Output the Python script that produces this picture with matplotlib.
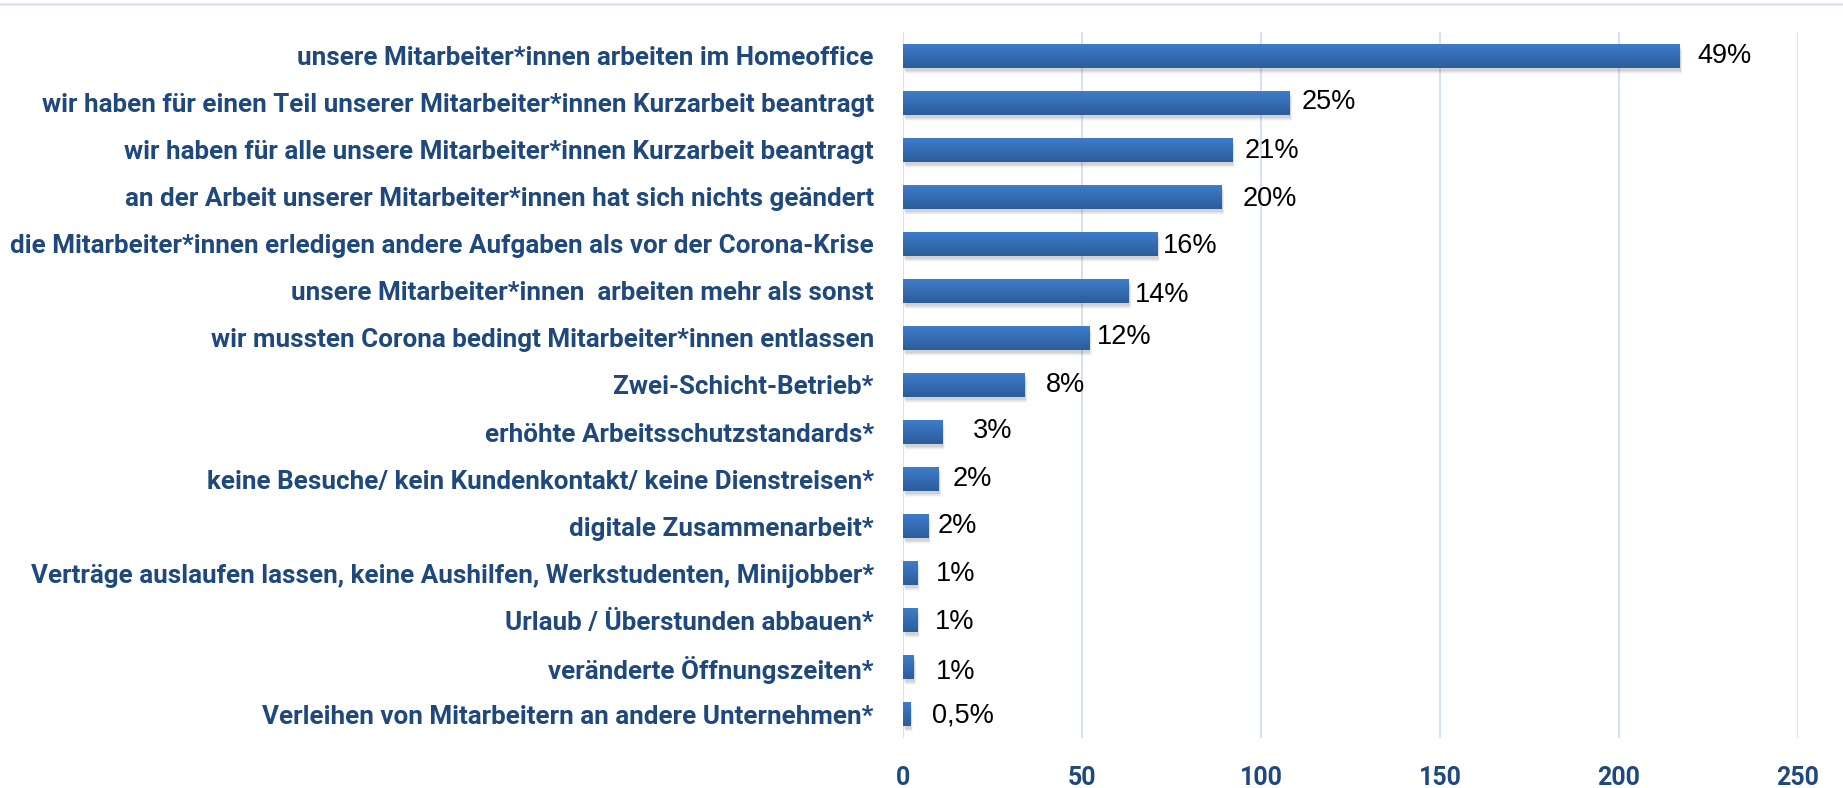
import matplotlib.pyplot as plt
import matplotlib.transforms as mtransforms
from matplotlib.patches import Rectangle
from matplotlib.lines import Line2D
import numpy as np

labels = [
    'unsere Mitarbeiter*innen arbeiten im Homeoffice',
    'wir haben für einen Teil unserer Mitarbeiter*innen Kurzarbeit beantragt',
    'wir haben für alle unsere Mitarbeiter*innen Kurzarbeit beantragt',
    'an der Arbeit unserer Mitarbeiter*innen hat sich nichts geändert',
    'die Mitarbeiter*innen erledigen andere Aufgaben als vor der Corona-Krise',
    'unsere Mitarbeiter*innen  arbeiten mehr als sonst',
    'wir mussten Corona bedingt Mitarbeiter*innen entlassen',
    'Zwei-Schicht-Betrieb*',
    'erhöhte Arbeitsschutzstandards*',
    'keine Besuche/ kein Kundenkontakt/ keine Dienstreisen*',
    'digitale Zusammenarbeit*',
    'Verträge auslaufen lassen, keine Aushilfen, Werkstudenten, Minijobber*',
    'Urlaub / Überstunden abbauen*',
    'veränderte Öffnungszeiten*',
    'Verleihen von Mitarbeitern an andere Unternehmen*',
]
counts = [217, 108, 92, 89, 71, 63, 52, 34, 11, 10, 7, 4, 4, 3, 2]
pct_labels = ['49%', '25%', '21%', '20%', '16%', '14%', '12%', '8%', '3%',
              '2%', '2%', '1%', '1%', '1%', '0,5%']
xticks = [0, 50, 100, 150, 200, 250]

# manual label placement (pixels) as in the original excel chart
label_dx = [18, 12, 12, 21, 6, 6, 8, 21, 31, 14, 10, 19, 18, 22, 22]
label_dy = [0, -1, 1, 2, 2, 4, -1, 0, -1, 0, 0, 1, 2, 5, 1]

navy = '#1f497d'
grid_c = '#d6e2f1'
top_c = np.array([0x3e, 0x7e, 0xcd]) / 255
bot_c = np.array([0x2c, 0x5c, 0x9a]) / 255

fig = plt.figure(figsize=(18.43, 7.88), dpi=100)
ax = fig.add_axes([903 / 1843, 50 / 788, (1798 - 903) / 1843, (756 - 50) / 788])
fig.add_artist(Line2D([0, 1], [1 - 4 / 788] * 2, transform=fig.transFigure,
                      color='#dce6f2', lw=2))

y = np.arange(len(labels))
h = 0.51
bars = ax.barh(y, counts, height=h, color='none', zorder=3)

grad = np.linspace(0, 1, 64)[:, None, None]
grad = (1 - grad) * top_c + grad * bot_c

for i, b in enumerate(bars):
    x0, yb = b.get_x(), b.get_y()
    w, hh = b.get_width(), b.get_height()
    # soft shadow under the bar
    for k, a in enumerate([0.10, 0.08, 0.06, 0.04]):
        off = mtransforms.ScaledTranslation((1 + k * 0.5) / 100, -(3 + k) / 100, fig.dpi_scale_trans)
        ax.add_patch(Rectangle((x0, yb), w, hh, facecolor='#555555', edgecolor='none',
                               alpha=a, transform=ax.transData + off, zorder=2))
    im = ax.imshow(grad, extent=(x0, x0 + w, yb + hh, yb), aspect='auto',
                   interpolation='bilinear', zorder=4)
    clip = Rectangle((x0, yb), w, hh, transform=ax.transData)
    im.set_clip_path(clip)
    off = mtransforms.ScaledTranslation(label_dx[i] / 100, -label_dy[i] / 100, fig.dpi_scale_trans)
    ax.text(x0 + w, i, pct_labels[i], transform=ax.transData + off,
            ha='left', va='center', fontsize=19.5, family='Liberation Sans',
            color='black', zorder=5)

ax.set_xlim(0, 250)
ax.set_ylim(len(labels) - 0.5, -0.5)
ax.set_xticks(xticks)
ax.set_yticks(y)
ax.set_yticklabels(labels, family='Roboto', fontweight='bold', fontsize=18.7, color=navy)
ax.set_xticklabels([str(t) for t in xticks], family='Roboto', fontweight='bold',
                   fontsize=18, color=navy)
ax.tick_params(axis='y', length=0, pad=21)
ax.tick_params(axis='x', length=0, pad=20)
ax.grid(axis='x', color=grid_c, lw=1.5, zorder=0)
ax.set_axisbelow(True)
for s in ax.spines.values():
    s.set_visible(False)

fig.savefig('out.png', dpi=100)
